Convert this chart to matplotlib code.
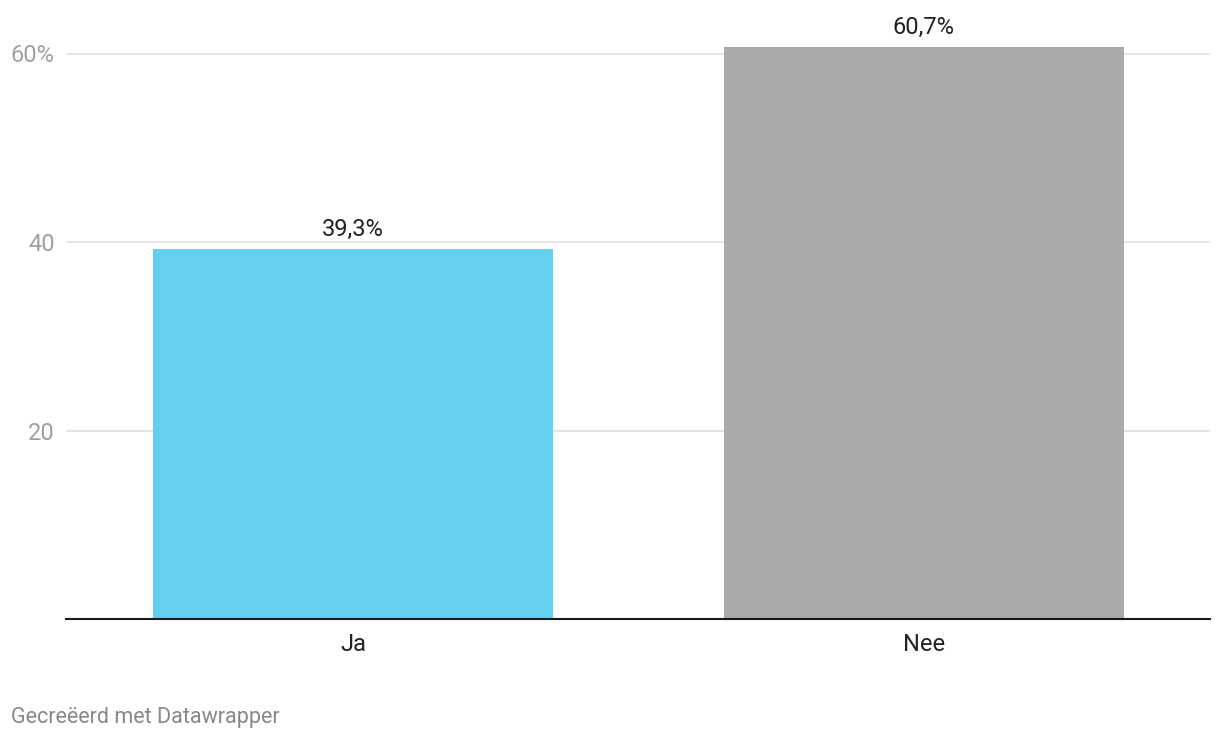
import matplotlib
matplotlib.use('Agg')
import matplotlib.pyplot as plt

# Data
categories = ['Ja', 'Nee']
values = [39.3, 60.7]
value_labels = ['39,3%', '60,7%']
bar_colors = ['#65CFF0', '#AAAAAA']
yticks = [20, 40, 60]
ytick_labels = ['20', '40', '60%']

plt.rcParams['font.family'] = ['Roboto', 'DejaVu Sans']

fig = plt.figure(figsize=(12.2, 7.4), dpi=100)
ax = fig.add_axes([66 / 1220, 1 - 619 / 740, 1144 / 1220, (619 - 20) / 740])

x = list(range(len(categories)))
ax.bar(x, values, width=0.70, color=bar_colors, zorder=2)

# Value labels above bars
for xi, v, lab in zip(x, values, value_labels):
    ax.annotate(lab, (xi, v), xytext=(0, 9.4), textcoords='offset points',
                ha='center', va='baseline', fontsize=17, color='#222222')

ax.set_xlim(-0.503, 1.501)
ax.set_ylim(0, (619 - 20) / 9.425)

# Grid
ax.set_yticks(yticks)
ax.set_yticklabels(ytick_labels)
ax.yaxis.grid(True, color='#E3E3E3', linewidth=1.3, zorder=0)
ax.set_axisbelow(True)
ax.tick_params(axis='y', length=0, pad=8, labelsize=17, labelcolor='#A0A0A0')

ax.set_xticks(x)
ax.set_xticklabels(categories)
ax.tick_params(axis='x', length=0, pad=10, labelsize=17, labelcolor='#222222')

for s in ['top', 'right', 'left']:
    ax.spines[s].set_visible(False)
ax.spines['bottom'].set_color('#1A1A1A')
ax.spines['bottom'].set_linewidth(1.5)
ax.spines['bottom'].set_zorder(3)

fig.text(11 / 1220, 1 - 717 / 740, 'Gecreëerd met Datawrapper', ha='left',
         va='center', fontsize=15.5, color='#888888')

fig.savefig('out.png', dpi=100)
